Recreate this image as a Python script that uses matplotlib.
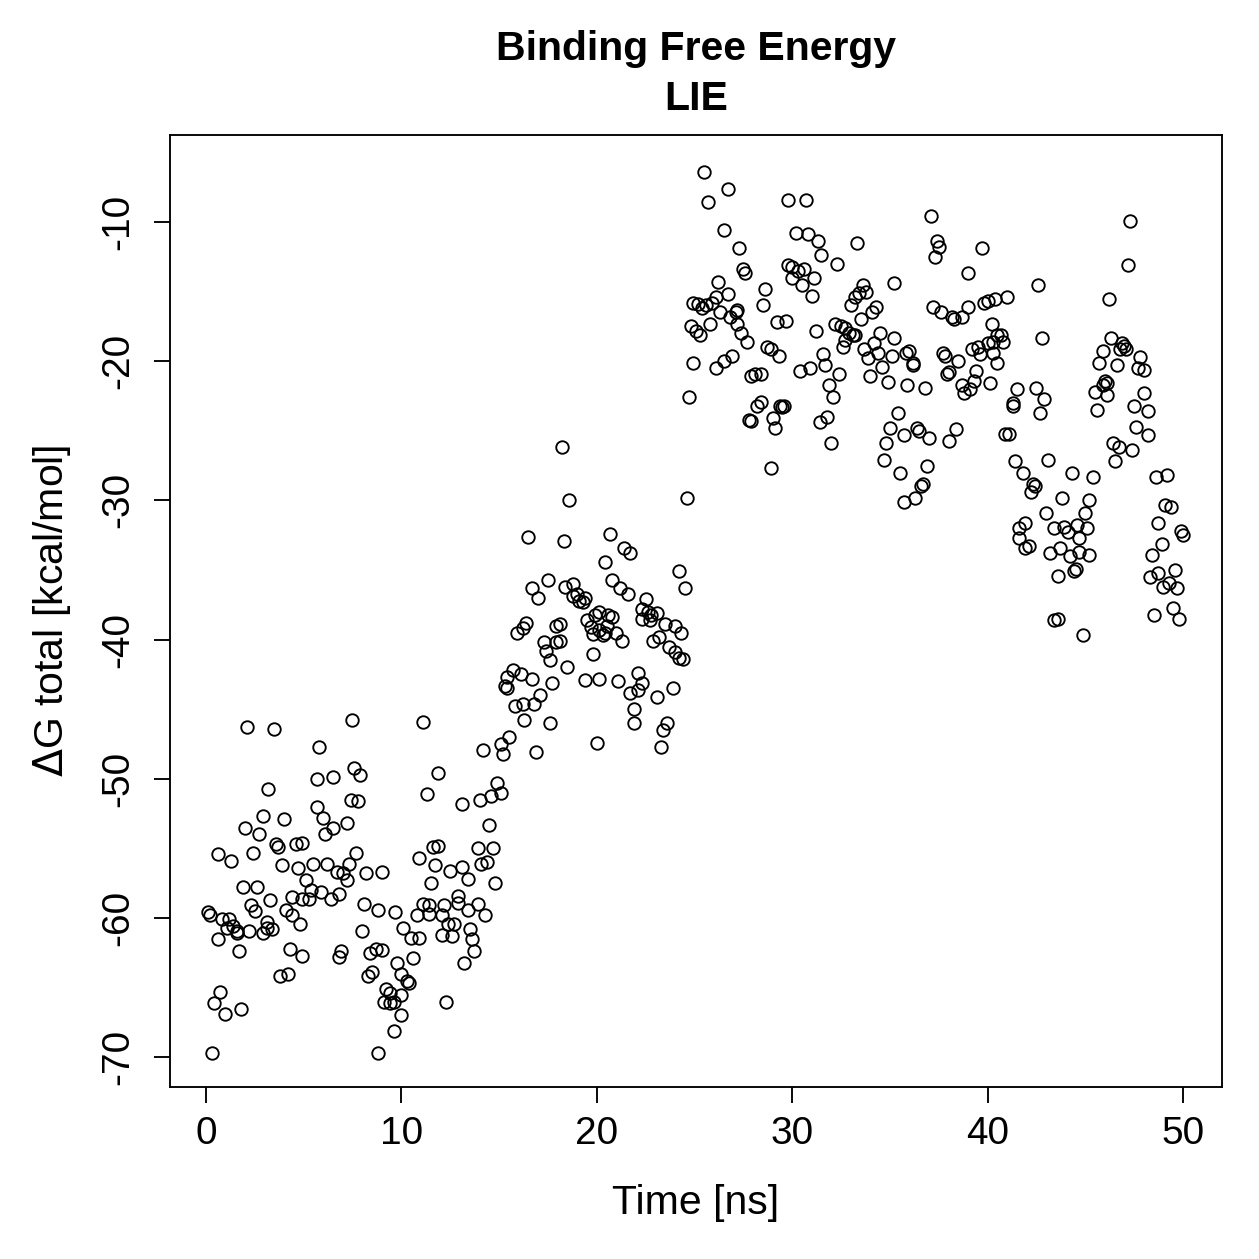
import matplotlib.pyplot as plt
import numpy as np

plt.rcParams['font.family'] = ['Liberation Sans', 'DejaVu Sans']
plt.rcParams['font.size'] = 16

# (time [ns], dG total [kcal/mol]), in chunks of time
pts_0_5 = [(2.1, -46.3), (3.5, -46.4), (3.2, -50.7), (2.9, -52.7), (4.0, -52.9), (2.0, -53.5),
           (2.7, -54.0), (3.6, -54.7), (3.7, -54.9), (4.6, -54.7), (4.9, -54.6), (0.6, -55.4),
           (1.3, -55.9), (2.4, -55.3), (3.9, -56.2), (4.7, -56.4), (5.1, -57.3), (1.9, -57.8),
           (2.6, -57.8), (3.3, -58.7), (4.4, -58.5), (4.9, -58.6), (2.3, -59.1), (2.5, -59.5),
           (0.1, -59.6), (0.2, -59.8), (0.8, -60.1), (1.2, -60.1), (4.1, -59.4), (4.4, -59.8),
           (4.8, -60.4), (1.1, -60.7), (1.4, -60.6), (1.6, -61.1), (1.6, -60.9), (2.2, -60.9),
           (2.9, -61.1), (3.1, -60.7), (3.4, -60.8), (3.1, -60.3), (0.6, -61.5), (1.7, -62.4),
           (4.3, -62.2), (4.9, -62.7), (3.8, -64.2), (4.2, -64.0), (0.7, -65.3), (0.4, -66.1),
           (1.0, -66.9), (1.8, -66.5), (0.3, -69.7)]

pts_5_10 = [(7.5, -45.8), (5.8, -47.7), (7.6, -49.2), (7.9, -49.7), (5.7, -50.0), (6.5, -49.9),
            (7.4, -51.5), (7.8, -51.6), (5.7, -52.0), (6.0, -52.8), (6.5, -53.5), (6.1, -54.0),
            (7.2, -53.2), (7.7, -55.3), (5.5, -56.1), (6.2, -56.1), (6.7, -56.7), (7.0, -56.8),
            (7.3, -56.1), (7.2, -57.3), (8.2, -56.8), (9.0, -56.7), (5.4, -58.0), (5.9, -58.1),
            (6.8, -58.3), (6.4, -58.6), (5.3, -58.6), (8.1, -59.0), (8.8, -59.4), (9.7, -59.6),
            (10.1, -60.7), (8.0, -60.9), (6.9, -62.4), (6.8, -62.8), (8.7, -62.2), (9.0, -62.3),
            (8.4, -62.5), (9.8, -63.2), (8.5, -63.9), (8.3, -64.2), (10.0, -64.0), (10.3, -64.5),
            (9.2, -65.1), (9.4, -65.4), (9.1, -66.0), (9.4, -66.1), (9.6, -66.0), (10.0, -65.5),
            (10.0, -67.0), (9.6, -68.1), (8.8, -69.7)]

pts_10_15 = [(11.1, -45.9), (14.2, -47.9), (15.1, -47.5), (15.2, -48.2), (11.9, -49.6), (11.3, -51.1),
             (13.1, -51.8), (14.0, -51.5), (14.6, -51.2), (14.9, -50.3), (15.1, -51.0), (14.5, -53.3),
             (10.9, -55.7), (11.6, -54.9), (11.9, -54.8), (11.7, -56.2), (13.9, -55.0), (14.7, -55.0),
             (14.1, -56.1), (14.4, -56.0), (12.5, -56.6), (13.1, -56.3), (13.4, -57.2), (11.5, -57.5),
             (14.8, -57.5), (11.1, -59.0), (11.4, -59.1), (11.4, -59.7), (10.8, -59.8), (12.2, -59.1),
             (12.1, -59.8), (12.9, -58.4), (12.9, -58.9), (13.4, -59.4), (13.9, -59.0), (14.3, -59.8),
             (12.4, -60.4), (12.7, -60.4), (10.5, -61.4), (10.9, -61.4), (12.1, -61.2), (12.6, -61.3),
             (13.5, -60.8), (13.6, -61.5), (13.7, -62.4), (13.2, -63.2), (10.6, -62.9), (10.4, -64.7),
             (12.3, -66.0)]

pts_15_20 = [(18.2, -26.2), (18.6, -30.0), (16.5, -32.6), (18.3, -32.9), (17.5, -35.7), (16.7, -36.3),
             (17.0, -37.0), (18.4, -36.2), (18.8, -36.0), (18.8, -36.9), (19.0, -36.7), (19.1, -37.2),
             (19.3, -37.3), (19.4, -37.0), (15.9, -39.5), (16.2, -39.2), (16.4, -38.8), (17.9, -39.0),
             (18.1, -38.9), (19.5, -38.6), (19.7, -39.1), (19.8, -39.6), (20.1, -39.3), (17.3, -40.2),
             (17.4, -40.8), (17.6, -41.5), (17.9, -40.2), (18.1, -40.1), (19.8, -41.0), (15.7, -42.2),
             (16.1, -42.5), (15.4, -42.7), (15.3, -43.3), (15.4, -43.5), (15.8, -44.8), (16.2, -44.6),
             (16.7, -42.8), (18.5, -42.0), (17.7, -43.1), (19.4, -42.9), (20.1, -42.8), (17.1, -44.0),
             (16.8, -44.6), (16.3, -45.8), (17.6, -46.0), (15.5, -47.0), (16.9, -48.1), (20.0, -47.4)]

pts_20_25 = [(20.7, -32.4), (21.4, -33.4), (21.7, -33.8), (20.4, -34.4), (24.2, -35.1), (24.5, -36.3),
             (20.8, -35.7), (21.2, -36.3), (21.6, -36.7), (22.5, -37.1), (22.3, -37.8), (22.6, -38.0),
             (22.8, -38.2), (23.1, -38.1), (22.7, -38.6), (22.3, -38.5), (23.5, -38.9), (24.0, -39.0),
             (24.3, -39.5), (22.9, -40.1), (23.2, -39.8), (23.7, -40.5), (24.0, -40.9), (24.4, -41.4),
             (24.2, -41.3), (19.9, -38.2), (20.1, -38.0), (20.6, -38.2), (20.8, -38.4), (20.4, -39.5),
             (20.5, -39.0), (21.0, -39.5), (21.3, -40.1), (20.3, -39.7), (21.1, -43.0), (22.1, -42.4),
             (22.3, -43.1), (22.1, -43.6), (21.7, -43.8), (23.1, -44.1), (23.9, -43.5), (21.9, -45.0),
             (21.9, -46.0), (23.6, -46.0), (23.4, -46.5), (23.3, -47.7), (24.6, -29.8)]

pts_25_30 = [(25.5, -6.4), (26.7, -7.6), (25.7, -8.6), (26.5, -10.6), (27.3, -11.9), (27.5, -13.4),
             (27.6, -13.7), (26.2, -14.3), (24.9, -15.8), (25.2, -15.9), (25.4, -16.2), (25.6, -16.0),
             (25.9, -15.8), (26.1, -15.4), (26.7, -15.2), (26.3, -16.5), (26.8, -16.8), (27.1, -16.5),
             (27.2, -16.3), (27.2, -17.3), (24.8, -17.5), (25.1, -17.8), (25.3, -18.1), (25.8, -17.3),
             (28.6, -14.8), (28.5, -16.0), (29.2, -17.2), (29.7, -17.1), (27.4, -18.0), (27.7, -18.6),
             (24.9, -20.1), (26.1, -20.5), (26.5, -20.0), (26.9, -19.6), (28.7, -19.0), (28.9, -19.1),
             (29.3, -19.6), (27.9, -21.1), (28.1, -20.9), (28.4, -20.9), (24.7, -22.6), (28.2, -23.2),
             (28.4, -22.9), (27.8, -24.2), (27.9, -24.3), (29.4, -23.2), (29.5, -23.3), (29.6, -23.2),
             (29.0, -24.1), (29.1, -24.8), (28.9, -27.7)]

pts_30_35 = [(29.8, -8.4), (30.7, -8.4), (30.2, -10.8), (30.8, -10.9), (31.3, -11.4), (33.3, -11.5),
             (31.5, -12.4), (32.3, -13.0), (29.8, -13.1), (30.0, -13.2), (30.3, -13.5), (30.6, -13.4),
             (31.1, -14.0), (30.0, -14.0), (30.5, -14.5), (31.0, -15.3), (35.2, -14.4), (33.6, -14.5),
             (33.8, -15.0), (33.4, -15.1), (33.2, -15.4), (33.0, -16.0), (34.3, -16.1), (34.1, -16.5),
             (33.5, -17.0), (31.2, -17.8), (32.2, -17.3), (32.5, -17.5), (32.7, -17.6), (32.9, -18.0),
             (33.1, -18.1), (33.2, -18.1), (32.7, -18.5), (32.6, -19.0), (34.5, -18.0), (35.2, -18.3),
             (33.7, -19.1), (34.2, -18.7), (33.9, -19.8), (34.4, -19.4), (35.1, -19.6), (31.6, -19.5),
             (31.7, -20.3), (30.4, -20.7), (30.9, -20.5), (32.4, -20.9), (34.6, -20.4), (34.0, -21.1),
             (34.9, -21.5), (31.9, -21.7), (32.1, -22.6), (31.4, -24.4), (31.8, -24.0), (32.0, -25.9)]

pts_35_40 = [(37.1, -9.6), (37.4, -11.4), (37.5, -11.8), (37.3, -12.5), (39.7, -11.9), (39.0, -13.7),
             (37.2, -16.1), (37.6, -16.5), (38.2, -16.8), (38.3, -17.0), (38.7, -16.8), (39.0, -16.1),
             (39.8, -15.8), (40.0, -15.7), (40.4, -15.5), (40.2, -17.3), (35.8, -19.4), (36.0, -19.3),
             (36.2, -20.1), (36.2, -20.3), (37.7, -19.4), (37.8, -19.6), (38.5, -20.0), (38.0, -20.8),
             (37.9, -20.9), (39.2, -19.1), (39.5, -19.0), (39.6, -19.5), (40.0, -18.7), (40.3, -19.4),
             (40.5, -18.1), (40.5, -20.1), (39.4, -20.7), (39.3, -21.4), (38.7, -21.7), (38.8, -22.3),
             (39.1, -22.0), (40.1, -21.6), (35.9, -21.7), (36.8, -21.9), (35.4, -23.7), (35.0, -24.8),
             (34.8, -25.9), (34.7, -27.1), (35.5, -28.0), (35.7, -25.3), (36.4, -24.8), (36.5, -25.0),
             (37.0, -25.5), (38.0, -25.7), (38.4, -24.9), (36.9, -27.5), (36.7, -28.8), (36.6, -29.0),
             (35.7, -30.1), (36.3, -29.8)]

pts_40_45 = [(42.6, -14.5), (41.0, -15.4), (40.7, -18.1), (40.8, -18.6), (40.3, -18.6), (42.8, -18.3),
             (41.5, -22.0), (42.5, -21.9), (42.9, -22.7), (42.7, -23.7), (41.3, -23.0), (41.3, -23.2),
             (40.9, -25.2), (41.1, -25.2), (41.4, -27.2), (41.8, -28.0), (43.1, -27.1), (44.3, -28.0),
             (45.4, -28.3), (42.3, -28.8), (42.4, -29.0), (42.2, -29.4), (43.8, -29.8), (45.2, -30.0),
             (45.0, -30.9), (43.0, -30.9), (41.9, -31.6), (41.6, -32.0), (41.6, -32.7), (41.9, -33.4),
             (42.1, -33.3), (43.4, -32.0), (43.9, -31.9), (44.1, -32.3), (44.6, -31.8), (45.1, -32.0),
             (44.7, -32.7), (43.2, -33.8), (43.7, -33.4), (44.2, -34.0), (44.7, -33.7), (45.2, -33.9),
             (44.5, -34.9), (44.4, -35.1), (43.6, -35.4), (43.4, -38.6), (43.6, -38.5), (44.9, -39.7)]

pts_45_50 = [(47.3, -9.9), (47.2, -13.1), (46.2, -15.5), (46.3, -18.3), (46.9, -18.7), (46.8, -19.1),
             (47.1, -19.1), (47.0, -18.9), (45.9, -19.3), (45.7, -20.1), (46.6, -20.3), (47.8, -19.7),
             (47.7, -20.5), (48.0, -20.6), (46.0, -21.4), (46.1, -21.6), (45.9, -21.7), (45.5, -22.2),
             (46.1, -22.4), (45.6, -23.5), (48.0, -22.3), (47.5, -23.2), (48.2, -23.6), (47.6, -24.7),
             (48.2, -25.3), (46.4, -25.9), (46.7, -26.2), (47.4, -26.4), (46.5, -27.2), (48.6, -28.3),
             (49.2, -28.2), (49.1, -30.3), (49.4, -30.5), (48.7, -31.6), (49.9, -32.2), (50.0, -32.5),
             (48.9, -33.1), (48.4, -33.9), (48.3, -35.5), (48.7, -35.2), (49.0, -36.2), (49.3, -35.9),
             (49.6, -35.0), (49.7, -36.3), (48.5, -38.2), (49.5, -37.7), (49.8, -38.5)]

xticks = [0, 10, 20, 30, 40, 50]
yticks = [-70, -60, -50, -40, -30, -20, -10]

data = np.array(pts_0_5 + pts_5_10 + pts_10_15 + pts_15_20 + pts_20_25 +
                pts_25_30 + pts_30_35 + pts_35_40 + pts_40_45 + pts_45_50)
time = data[:, 0]
dg = data[:, 1]

fig = plt.figure(figsize=(1259 / 180, 1259 / 180), dpi=180)
ax = fig.add_axes([0.135, 0.1366, 0.8357, 0.7562])

ax.plot(time, dg, 'o', ms=5, mfc='none', mec='black', mew=0.75)

ax.set_xlim(-1.84, 52.0)
ax.set_ylim(-72.14, -3.75)
ax.set_xticks(xticks)
ax.set_yticks(yticks)
ax.set_yticklabels([str(v) for v in yticks], rotation=90, va='center')
ax.tick_params(direction='out', length=6.5, width=0.75, labelsize=15.5)
ax.tick_params(axis='x', pad=5)
ax.tick_params(axis='y', pad=7)
for s in ax.spines.values():
    s.set_linewidth(0.75)

ax.set_xlabel('Time [ns]', fontsize=16.4, labelpad=13)
ax.set_ylabel(r'$\Delta$G total [kcal/mol]', fontsize=16.4, labelpad=11)
ax.set_title('Binding Free Energy\nLIE', fontsize=16.4, fontweight='bold', pad=10,
             linespacing=1.4)

plt.savefig('out.png', dpi=180)
